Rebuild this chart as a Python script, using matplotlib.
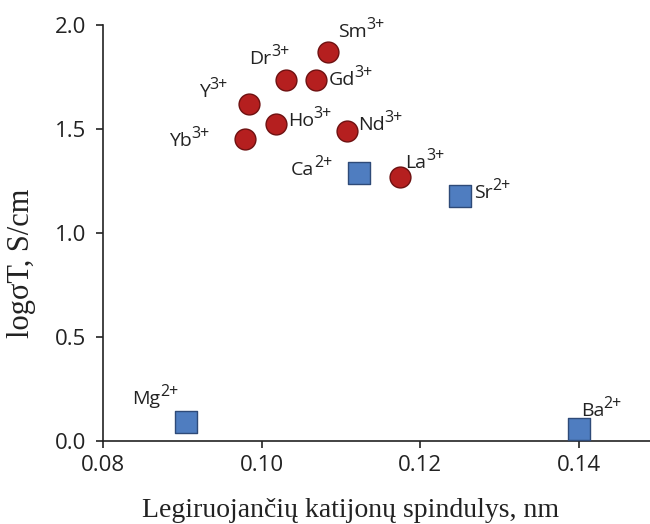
import matplotlib
matplotlib.use("Agg")
import matplotlib.pyplot as plt

plt.rcParams['font.family'] = ['Open Sans', 'DejaVu Sans']

# trivalent dopants (red circles)
ion3 = ["Sm", "Dr", "Gd", "Y", "Ho", "Nd", "Yb", "La"]
r3 = [0.1084, 0.1031, 0.1069, 0.0984, 0.1018, 0.1108, 0.0979, 0.1175]
s3 = [1.87, 1.735, 1.735, 1.62, 1.525, 1.49, 1.452, 1.27]

# divalent dopants (blue squares)
ion2 = ["Ca", "Sr", "Mg", "Ba"]
r2 = [0.1123, 0.1250, 0.0905, 0.1400]
s2 = [1.29, 1.178, 0.09, 0.058]

# label position: left edge / baseline offset from the marker, in pixels
off = {
    "Sm": (10, 15), "Dr": (-37, 16), "Gd": (12, -5), "Y": (-50, 7),
    "Ho": (12, -2), "Nd": (11, 1), "Yb": (-76, -7), "La": (5, 9),
    "Ca": (-68, -2), "Sr": (14, -2), "Mg": (-54, 18), "Ba": (2, 13),
}

fig = plt.figure(figsize=(6.5, 5.24), dpi=100)
ax = fig.add_axes([103 / 650, 83 / 524, 547 / 650, 416 / 524])

ax.scatter(r3, s3, marker='o', s=15 ** 2, color='#B51F1F',
           edgecolor='#6E1010', linewidth=1.0, zorder=3)
ax.scatter(r2, s2, marker='s', s=16 ** 2, color='#4F7DC0',
           edgecolor='#2E4A78', linewidth=1.0, zorder=3)


def label(name, charge, x, y):
    dx, dy = off[name]
    base = ax.annotate(name, (x, y), xytext=(dx * 0.72, dy * 0.72),
                       textcoords='offset points', ha='left', va='baseline',
                       fontsize=14, color='#222222')
    ax.annotate(charge, xy=(1, 0), xycoords=base, xytext=(-0.3, 8.5),
                textcoords='offset points', ha='left', va='baseline',
                fontsize=11.5, color='#222222')


for name, x, y in zip(ion3, r3, s3):
    label(name, "3+", x, y)
for name, x, y in zip(ion2, r2, s2):
    label(name, "2+", x, y)

ax.set_xlim(0.08, 0.149)
ax.set_ylim(0, 2.0)
ax.set_xticks([0.08, 0.10, 0.12, 0.14])
ax.set_xticklabels(["0.08", "0.10", "0.12", "0.14"])
ax.set_yticks([0.0, 0.5, 1.0, 1.5, 2.0])
ax.set_yticklabels(["0.0", "0.5", "1.0", "1.5", "2.0"])
ax.tick_params(direction='out', length=5, width=1.2, labelsize=16,
               colors='#222222')
ax.tick_params(axis='x', pad=5)
ax.tick_params(axis='y', pad=7)
for side in ['top', 'right']:
    ax.spines[side].set_visible(False)
for side in ['left', 'bottom']:
    ax.spines[side].set_linewidth(1.2)
    ax.spines[side].set_color('#222222')

fig.text(351 / 650, 7 / 524, "Legiruojančių katijonų spindulys, nm",
         family='Liberation Serif', fontsize=20, ha='center', va='baseline',
         color='#222222')
fig.text(22 / 650, (524 - 263) / 524, "logσT, S/cm", family='Liberation Serif',
         fontsize=22, ha='center', va='center', rotation=90, color='#222222')

fig.savefig("out.png", dpi=100)
